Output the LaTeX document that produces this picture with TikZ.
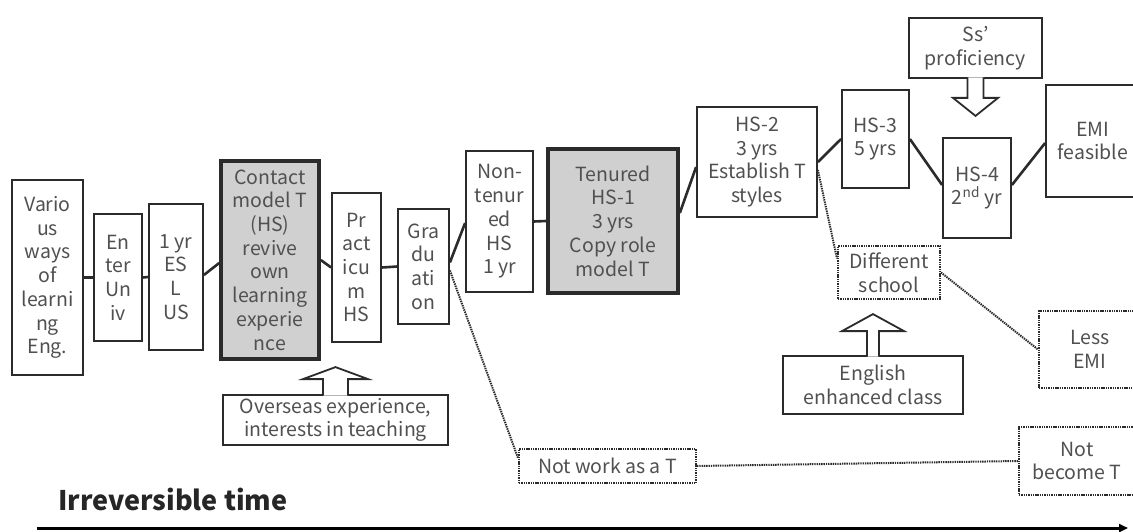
\documentclass[tikz,border=0pt]{standalone}
\usepackage{fontspec}
\setmainfont{Noto Sans CJK JP}
\usetikzlibrary{arrows.meta}
\definecolor{boxgrey}{HTML}{D0D0D0}
\definecolor{ink}{HTML}{2B2B2B}
\definecolor{txt}{HTML}{505050}

\begin{document}
\begin{tikzpicture}[x=1pt,y=-1pt,
              box/.style={draw=ink,line width=1.8pt,fill=white,text=txt,align=center,inner sep=0pt,font=\fontsize{19.5}{23.7}\selectfont},
              greybox/.style={box,line width=3.6pt,fill=boxgrey},
              dotbox/.style={box,line width=2pt,dash pattern=on 1.4pt off 0.9pt},
              size/.style 2 args={minimum width=#1pt,minimum height=#2pt},
              link/.style={draw=ink,line width=2.6pt},
              dotlink/.style={draw=ink,line width=2pt,dash pattern=on 1.4pt off 0.9pt},
              hollow/.style={draw=ink,line width=1.8pt,fill=white},
              timeline/.style={draw=black,line width=3pt,-{Triangle[length=9pt,width=8pt]}}]
              \fill[white] (0,0) rectangle (1133,532);
              \clip (0,0) rectangle (1133,532);
              \node[box,size={71}{195}] (various) at (47.5,277.5) {Vario\\us\\ways\\of\\learni\\ng\\Eng.};
              \node[box,size={48}{127}] (enter) at (118,277.5) {En\\ter\\Un\\iv};
              \node[box,size={54}{146}] (esl) at (176,277) {1 yr\\ES\\L\\US};
              \node[greybox,size={98}{198}] (contact) at (270,260) {Contact\\model T\\(HS)\\revive\\own\\learning\\experie\\nce};
              \node[box,size={49}{149}] (practicum) at (356.5,267.5) {Pr\\act\\icu\\m\\HS};
              \node[box,size={51}{115}] (grad) at (423.5,266.5) {Gra\\du\\ati\\on};
              \node[box,size={67}{141}] (nontenured) at (499.5,221.5) {Non-\\tenur\\ed\\HS\\1 yr};
              \node[greybox,size={130}{144}] (tenured) at (613,221) {Tenured\\HS-1\\3 yrs\\Copy role\\model T};
              \node[box,size={120}{110}] (hstwo) at (757,162) {HS-2\\3 yrs\\Establish T\\styles};
              \node[box,size={67}{98}] (hsthree) at (875.5,139) {HS-3\\5 yrs};
              \node[box,size={68}{100}] (hsfour) at (977,188) {HS-4\\2\textsuperscript{nd} yr};
              \node[box,size={94}{112}] (emi) at (1093,141) {EMI\\feasible};
              \node[box,size={133}{60}] (ssprof) at (975.5,48) {Ss'\\proficiency};
              \node[box,size={225}{50}] (overseas) at (335.5,420) {Overseas experience,\\interests in teaching};
              \node[box,size={180}{58}] (english) at (873,385) {English\\enhanced class};
              \node[dotbox,size={102}{53}] (different) at (889,272.5) {Different\\school};
              \node[dotbox,size={102}{77}] (lessemi) at (1090,349.5) {Less\\EMI};
              \node[dotbox,size={177}{34}] (notwork) at (607.5,466) {Not work as a T};
              \node[dotbox,size={116}{68}] (notbecome) at (1077,461) {Not\\become T};
              \draw[link] (various.east) -- (enter.west);
              \draw[link] (enter.east) -- (esl.west);
              \draw[link] ([yshift=2pt]esl.east) -- ([yshift=-3pt]contact.west);
              \draw[link] (contact.east) -- (practicum.west);
              \draw[link] (practicum.east) -- (grad.west);
              \draw[link] ([yshift=4pt]grad.east) -- ([yshift=-1.5pt]nontenured.west);
              \draw[link] (nontenured.east) -- (tenured.west);
              \draw[link] ([yshift=8pt]tenured.east) -- ([yshift=-5pt]hstwo.west);
              \draw[link] (hstwo.east) -- (hsthree.west);
              \draw[link] (hsthree.east) -- ([yshift=3pt]hsfour.west);
              \draw[link] ([yshift=3pt]hsfour.east) -- ([yshift=-2pt]emi.west);
              \draw[dotlink] ([yshift=-4pt]grad.east) -- ([yshift=8pt]notwork.west);
              \draw[dotlink] (notwork.east) -- (notbecome.west);
              \draw[dotlink] ([yshift=-8pt]hstwo.east) -- ([yshift=14pt]different.west);
              \draw[dotlink] (different.east) -- (lessemi.west);
              \draw[hollow] ([xshift=-12.5pt,yshift=-1.5pt]overseas.north) -- ++(0,-16.5) -- ++(-20,0) -- ++(32.5,-12) -- ++(32.5,12) -- ++(-20,0) -- ([xshift=12.5pt,yshift=-1.5pt]overseas.north);
              \draw[hollow] ([xshift=-6pt,yshift=-1.5pt]english.north) -- ++(0,-25.5) -- ++(-25,0) -- ++(31,-17) -- ++(31,17) -- ++(-25,0) -- ([xshift=6pt,yshift=-1.5pt]english.north);
              \draw[hollow] ([xshift=-8pt,yshift=1.5pt]ssprof.south) -- ++(0,20.5) -- ++(-14.5,0) -- ++(22.5,18) -- ++(22.5,-18) -- ++(-14.5,0) -- ([xshift=8pt,yshift=1.5pt]ssprof.south);
              \node[anchor=base west,inner sep=0pt,text=black!85,font=\bfseries\fontsize{27}{30}\selectfont] (timelabel) at (58,510) {Irreversible time};
              \coordinate (tstart) at (37,528);
              \coordinate (tend) at (1128,528);
              \draw[timeline] (tstart) -- (tend);
            \end{tikzpicture}
\end{document}
